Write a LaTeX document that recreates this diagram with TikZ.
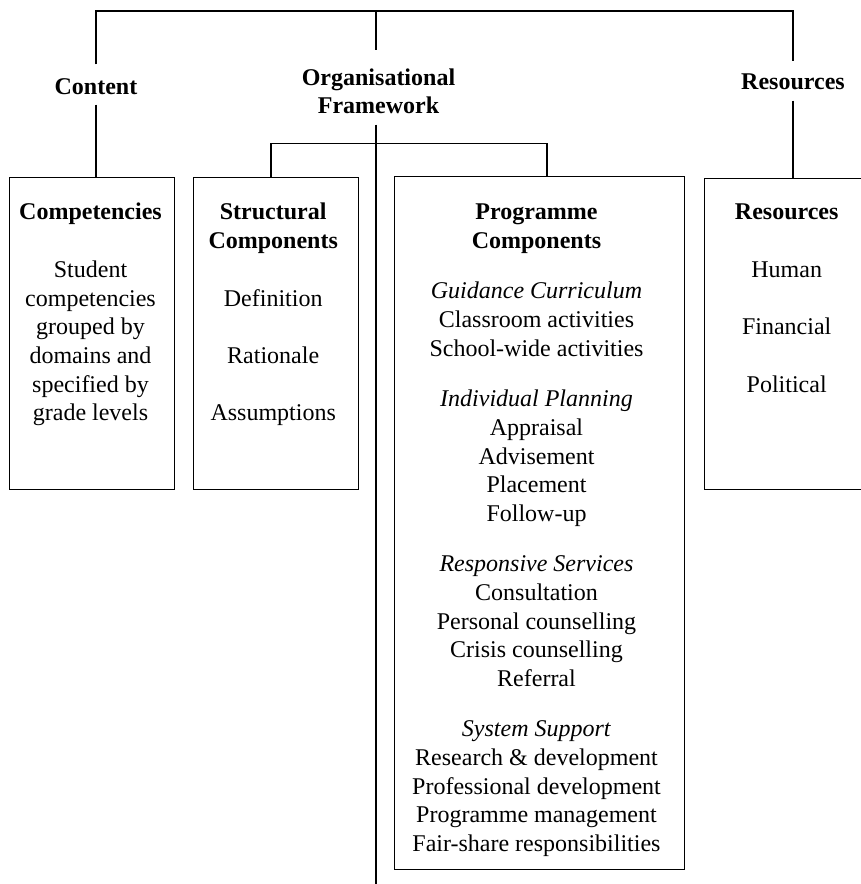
\documentclass[tikz,border=0pt]{standalone}
\usepackage{fontspec}
\setmainfont{Liberation Serif}
\begin{document}
\begin{tikzpicture}[x=1pt,y=-1pt,line width=1.1pt,
  box/.style={draw,inner sep=0pt,anchor=north west},
  txt/.style={font=\fontsize{24}{28.7}\selectfont,align=center,inner sep=0pt,anchor=north},
  head/.style={font=\fontsize{24}{28.7}\selectfont\bfseries,inner sep=0pt,anchor=base}]
\useasboundingbox (0,0) rectangle (860,884);

% boxes
\node[box,minimum width=165pt,minimum height=311.8pt] (comp) at (9,176.7) {};
\node[box,minimum width=164.7pt,minimum height=311.7pt] (stru) at (192.8,177.3) {};
\node[box,minimum width=290pt,minimum height=693.3pt] (prog) at (394.3,176) {};
\node[box,minimum width=165pt,minimum height=311.3pt] (resb) at (704.3,177.7) {};

% headers
\node[head,text height=29pt,text depth=10pt] (content) at (96,94) {Content};
\node[head,text height=34pt,text depth=0pt] (orgA) at (378.5,85) {Organisational};
\node[head,text height=16pt,text depth=10.5pt] (orgB) at (378.5,113.5) {Framework};
\node[head,text height=28pt,text depth=10.3pt] (resh) at (793,89.7) {Resources};

% box texts
\node[txt] (compt) at (90.5,199.4) {\rule{0pt}{20pt}\textbf{Competencies}\\[28.7pt]Student\\competencies\\grouped by\\domains and\\specified by\\grade levels};
\node[txt] (strut) at (273.2,199.4) {\rule{0pt}{20pt}\textbf{Structural}\\\textbf{Components}\\[28.7pt]Definition\\[28.7pt]Rationale\\[28.7pt]Assumptions};
\node[txt] (progt) at (536.5,199.4) {\rule{0pt}{20pt}\textbf{Programme}\\\textbf{Components}\\[21.6pt]\textit{Guidance Curriculum}\\Classroom activities\\School-wide activities\\[21.6pt]\textit{Individual Planning}\\Appraisal\\Advisement\\Placement\\Follow-up\\[21.6pt]\textit{Responsive Services}\\Consultation\\Personal counselling\\Crisis counselling\\Referral\\[21.6pt]\textit{System Support}\\Research \& development\\Professional development\\Programme management\\Fair-share responsibilities};
\node[txt] (rest) at (786.7,199.4) {\rule{0pt}{20pt}\textbf{Resources}\\[28.7pt]Human\\[28.7pt]Financial\\[28.7pt]Political};

% connectors
\coordinate (topy) at (376,11);
\coordinate (orgend) at (376,884);
\coordinate (sbL) at (271,143.3);
\coordinate (sbR) at (547,143.3);
\draw (content.north) |- (topy) -| (resh.north);
\draw (topy) -- (topy |- orgA.north);
\draw (topy |- orgB.south) -- (orgend);
\draw (content.south) -- (content.south |- comp.north);
\draw (resh.south) -- (resh.south |- resb.north);
\draw (sbL |- stru.north) -- (sbL) -- (sbR) -- (sbR |- prog.north);
\end{tikzpicture}
\end{document}
